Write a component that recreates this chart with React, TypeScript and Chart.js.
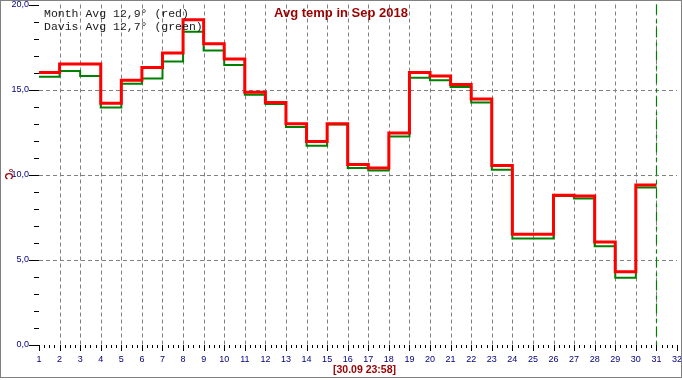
import React, { useEffect, useRef } from 'react';
import { Chart, registerables } from 'chart.js';

Chart.register(...registerables);

const days = [1, 2, 3, 4, 5, 6, 7, 8, 9, 10, 11, 12, 13, 14, 15, 16, 17, 18, 19, 20, 21, 22, 23, 24, 25, 26, 27, 28, 29, 30];
const monthAvg = [16.0, 16.5, 16.5, 14.2, 15.55, 16.3, 17.15, 19.1, 17.7, 16.8, 14.85, 14.25, 13.0, 11.95, 13.0, 10.6, 10.4, 12.45, 16.0, 15.8, 15.3, 14.45, 10.55, 6.5, 6.5, 8.8, 8.75, 6.05, 4.3, 9.4];
const davisAvg = [15.75, 16.1, 15.8, 13.95, 15.35, 15.65, 16.65, 18.4, 17.3, 16.45, 14.7, 14.15, 12.8, 11.7, 12.95, 10.4, 10.25, 12.25, 15.7, 15.55, 15.15, 14.25, 10.3, 6.25, 6.25, 8.75, 8.6, 5.8, 3.95, 9.25];
const yGridValues = [5, 10, 15];
const titleText = 'Avg temp in Sep 2018';
const legendLines = ['Month Avg 12,9° (red)', 'Davis Avg 12,7° (green)'];
const footerText = '[30.09 23:58]';
const yAxisTitle = '°C';
const markerDay = 31;
const xMin = 1;
const xMax = 32;
const yMin = 0;
const yMax = 20;

function stepPoints(values: number[]) {
  const pts = days.map((d, i) => ({ x: d, y: values[i] }));
  pts.push({ x: days[days.length - 1] + 1, y: values[values.length - 1] });
  return pts;
}

const decor = {
  id: 'decor',
  beforeDatasetsDraw(chart: any) {
    const { ctx, chartArea: a, scales } = chart;
    const x = scales.x;
    const y = scales.y;
    ctx.save();
    ctx.strokeStyle = '#808080';
    ctx.lineWidth = 1;
    ctx.setLineDash([4, 3]);
    for (let d = xMin + 1; d <= xMax - 1; d++) {
      const px = Math.round(x.getPixelForValue(d)) + 0.5;
      ctx.beginPath();
      ctx.moveTo(px, a.top);
      ctx.lineTo(px, a.bottom);
      ctx.stroke();
    }
    for (const v of yGridValues) {
      const py = Math.round(y.getPixelForValue(v)) + 0.5;
      ctx.beginPath();
      ctx.moveTo(a.left, py);
      ctx.lineTo(a.right, py);
      ctx.stroke();
    }
    ctx.setLineDash([]);
    ctx.strokeStyle = '#000000';
    for (let v = yMin; v <= yMax; v++) {
      const py = Math.round(y.getPixelForValue(v)) + 0.5;
      const len = v % 5 === 0 ? 10 : 5;
      ctx.beginPath();
      ctx.moveTo(a.left - len, py);
      ctx.lineTo(a.left, py);
      ctx.stroke();
    }
    for (let q = xMin * 4; q <= xMax * 4; q++) {
      const val = q / 4;
      const px = Math.round(x.getPixelForValue(val)) + 0.5;
      const len = q % 4 === 0 ? 6 : 3;
      ctx.beginPath();
      ctx.moveTo(px, a.bottom);
      ctx.lineTo(px, a.bottom + len);
      ctx.stroke();
    }
    ctx.restore();
  },
  afterDatasetsDraw(chart: any) {
    const { ctx, chartArea: a, scales } = chart;
    const px = Math.round(scales.x.getPixelForValue(markerDay)) + 0.5;
    ctx.save();
    ctx.strokeStyle = '#008000';
    ctx.lineWidth = 1.2;
    ctx.setLineDash([10, 5, 4, 4]);
    ctx.beginPath();
    ctx.moveTo(px, a.top);
    ctx.lineTo(px, a.bottom);
    ctx.stroke();
    ctx.restore();
  },
  afterDraw(chart: any) {
    const { ctx } = chart;
    ctx.save();
    ctx.fillStyle = '#990000';
    ctx.font = 'bold 13px "Liberation Sans", Arial, sans-serif';
    ctx.textAlign = 'center';
    ctx.textBaseline = 'alphabetic';
    ctx.fillText(titleText, 341, 16.5);

    ctx.font = 'bold 10.5px "Liberation Sans", Arial, sans-serif';
    ctx.fillText(footerText, 364.5, 372.5);

    ctx.save();
    ctx.translate(8, 174);
    ctx.rotate(Math.PI / 2);
    ctx.font = 'bold 10px "Liberation Sans", Arial, sans-serif';
    ctx.textBaseline = 'middle';
    ctx.fillText(yAxisTitle, 0, 0);
    ctx.restore();

    ctx.fillStyle = '#1a1a1a';
    ctx.font = '11.5px "Liberation Mono", "Courier New", monospace';
    ctx.textAlign = 'left';
    ctx.fillText(legendLines[0], 44, 16.5);
    ctx.fillText(legendLines[1], 44, 29.5);

    ctx.strokeStyle = '#808080';
    ctx.lineWidth = 1;
    ctx.strokeRect(0.5, 0.5, 681, 377);
    ctx.restore();
  },
};

export default function App() {
  const ref = useRef<HTMLCanvasElement | null>(null);
  useEffect(() => {
    if (!ref.current) return;
    const chart = new Chart(ref.current, {
      type: 'line',
      data: {
        datasets: [
          {
            label: 'Month Avg',
            data: stepPoints(monthAvg),
            borderColor: '#ff0000',
            borderWidth: 3,
            stepped: 'before',
            pointRadius: 0,
            fill: false,
          },
          {
            label: 'Davis Avg',
            data: stepPoints(davisAvg),
            borderColor: '#008000',
            borderWidth: 2,
            stepped: 'before',
            pointRadius: 0,
            fill: false,
          },
        ],
      },
      options: {
        responsive: false,
        animation: false,
        devicePixelRatio: 1,
        layout: { padding: { left: 0, top: 4.5, right: 5, bottom: 0 } },
        plugins: { legend: { display: false }, tooltip: { enabled: false }, title: { display: false } },
        scales: {
          x: {
            type: 'linear',
            min: xMin,
            max: xMax,
            grid: { display: false, drawTicks: false },
            border: { display: false },
            afterFit: (s: any) => { s.height = 35; s.paddingLeft = 0; s.paddingRight = 0; },
            ticks: {
              stepSize: 1,
              autoSkip: false,
              maxRotation: 0,
              padding: 9.5,
              color: '#000080',
              font: { family: '"Liberation Sans", Arial, sans-serif', size: 9 },
              callback: (v: any) => String(v),
            },
          },
          y: {
            type: 'linear',
            min: yMin,
            max: yMax,
            grid: { display: false, drawTicks: false },
            border: { display: false },
            afterFit: (s: any) => { s.width = 39; s.paddingTop = 0; s.paddingBottom = 0; },
            ticks: {
              stepSize: 5,
              padding: 10,
              color: '#000080',
              font: { family: '"Liberation Sans", Arial, sans-serif', size: 9 },
              callback: (v: any) => Number(v).toFixed(1).replace('.', ','),
            },
          },
        },
      },
      plugins: [decor],
    });
    return () => chart.destroy();
  }, []);
  return (
    <div style={{ position: 'fixed', left: 0, top: 0, width: 682, height: 380, background: '#fff' }}>
      <canvas ref={ref} width={682} height={380} style={{ display: 'block' }} />
    </div>
  );
}
